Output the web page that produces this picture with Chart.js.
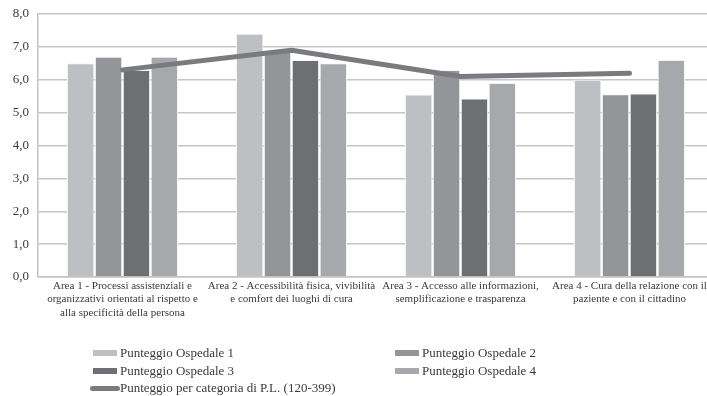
<!DOCTYPE html>
<html>
<head>
<meta charset="utf-8">
<script src="https://cdn.jsdelivr.net/npm/chart.js@4/dist/chart.umd.min.js"></script>
<style>
  html, body { margin: 0; padding: 0; background: #fff; }
  #wrap { position: relative; width: 707px; height: 396px; overflow: hidden; }
  #chart { position: absolute; left: 0; top: 0; }
  .lg { position: absolute; font-family: "Liberation Serif", serif; font-size: 13px; color: #3a3a3a; white-space: nowrap; }
  .lg .sw { position: absolute; top: 50%; }
  .lg .tx { position: absolute; top: 50%; transform: translateY(-50%); }
</style>
</head>
<body>
<div id="wrap">
  <canvas id="chart" width="714" height="396"></canvas>
  <div id="legend"></div>
</div>
<script>
// Areas of evaluation (x-axis categories, split over lines)
const categories = [
  ["Area 1 - Processi assistenziali e", "organizzativi orientati al rispetto e", "alla specificità della persona"],
  ["Area 2 - Accessibilità fisica, vivibilità", "e comfort dei luoghi di cura"],
  ["Area 3 - Accesso alle informazioni,", "semplificazione e trasparenza"],
  ["Area 4 - Cura della relazione con il", "paziente e con il cittadino"]
];

// Scores per hospital
const ospedale1 = [6.5, 7.4, 5.55, 6.0];
const ospedale2 = [6.7, 6.85, 6.3, 5.56];
const ospedale3 = [6.3, 6.6, 5.43, 5.58];
const ospedale4 = [6.7, 6.5, 5.9, 6.6];

// Reference score for the bed-count category
const categoriaPL = [6.3, 6.9, 6.1, 6.2];

const seriesNames = [
  "Punteggio Ospedale 1", "Punteggio Ospedale 2",
  "Punteggio Ospedale 3", "Punteggio Ospedale 4",
  "Punteggio per categoria di P.L. (120-399)"
];

// Y-axis ticks
const yTicks = ["0,0", "1,0", "2,0", "3,0", "4,0", "5,0", "6,0", "7,0", "8,0"];

const barColors = ["#bebfc3", "#949598", "#6e6f73", "#a7a8ac"];
const lineColor = "#7a7b7f";
const FONT = "'Liberation Serif', serif";

const barSet = (label, data, color) => ({
  type: "bar",
  label: label,
  data: data,
  backgroundColor: color,
  borderColor: "#f4f4f4",
  borderWidth: { left: 1, right: 1, top: 1, bottom: 0 },
  borderSkipped: false,
  categoryPercentage: 0.66,
  barPercentage: 0.98,
  order: 2
});

const chart = new Chart(document.getElementById("chart"), {
  data: {
    labels: categories,
    datasets: [
      barSet(seriesNames[0], ospedale1, barColors[0]),
      barSet(seriesNames[1], ospedale2, barColors[1]),
      barSet(seriesNames[2], ospedale3, barColors[2]),
      barSet(seriesNames[3], ospedale4, barColors[3]),
      {
        type: "line",
        label: seriesNames[4],
        data: categoriaPL,
        borderColor: lineColor,
        backgroundColor: lineColor,
        borderWidth: 5,
        pointRadius: 0,
        tension: 0,
        borderCapStyle: "round",
        borderJoinStyle: "round",
        order: 1
      }
    ]
  },
  options: {
    responsive: false,
    animation: false,
    layout: { padding: { top: 14, right: 0, left: 0, bottom: 0 } },
    plugins: { legend: { display: false }, tooltip: { enabled: false } },
    scales: {
      x: {
        grid: { display: false, drawTicks: false },
        border: { display: true, color: "#c4c4c6", width: 1.5 },
        ticks: {
          color: "#3a3a3a",
          font: { family: FONT, size: 11, lineHeight: 1.23 },
          maxRotation: 0,
          autoSkip: false,
          padding: 2
        },
        afterFit: (s) => { s.height = 119; }
      },
      y: {
        min: 0,
        max: 8,
        grid: { color: "#c6c6c8", lineWidth: 1.5, drawTicks: false },
        border: { display: true, color: "#c4c4c6", width: 1.5 },
        ticks: {
          stepSize: 1,
          color: "#3a3a3a",
          font: { family: FONT, size: 13 },
          padding: 9,
          callback: (v) => yTicks[v]
        },
        afterFit: (s) => { s.width = 38; s.paddingTop = 0; s.paddingBottom = 0; }
      }
    }
  }
});

// Two-column legend under the plot
const legendEl = document.getElementById("legend");
const legendPos = [
  { x: 93, y: 353 }, { x: 395, y: 353 },
  { x: 93, y: 371 }, { x: 395, y: 371 },
  { x: 90, y: 388 }
];
chart.data.datasets.forEach((ds, i) => {
  const p = legendPos[i];
  const item = document.createElement("div");
  item.className = "lg";
  item.style.left = p.x + "px";
  item.style.top = (p.y - 10) + "px";
  item.style.height = "20px";
  const sw = document.createElement("span");
  sw.className = "sw";
  const tx = document.createElement("span");
  tx.className = "tx";
  if (ds.type === "line") {
    sw.style.width = "30px";
    sw.style.height = "5px";
    sw.style.marginTop = "-2.5px";
    sw.style.borderRadius = "3px";
    sw.style.background = ds.borderColor;
    tx.style.left = "30px";
  } else {
    sw.style.width = "24px";
    sw.style.height = "6px";
    sw.style.marginTop = "-3px";
    sw.style.background = ds.backgroundColor;
    tx.style.left = "27px";
  }
  tx.textContent = ds.label;
  item.appendChild(sw);
  item.appendChild(tx);
  legendEl.appendChild(item);
});
</script>
</body>
</html>
